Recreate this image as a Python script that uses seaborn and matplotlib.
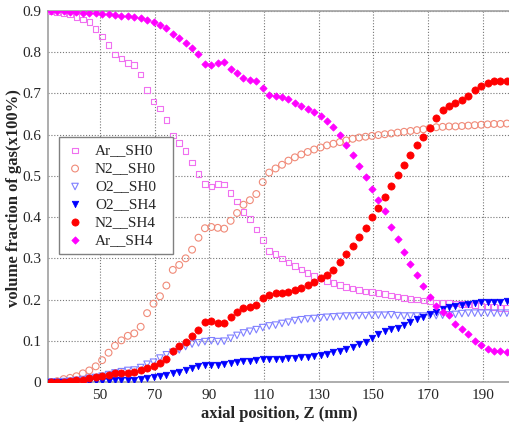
import numpy as np
import pandas as pd
import matplotlib
matplotlib.use("Agg")
import matplotlib.pyplot as plt
import seaborn as sns

# axial positions (mm)
z = [32.0, 34.35, 36.7, 39.05, 41.4, 43.75, 46.1, 48.45, 50.8, 53.15, 55.5, 57.85,
     60.2, 62.55, 64.9, 67.25, 69.6, 71.95, 74.3, 76.65, 79.0, 81.35, 83.7, 86.05,
     88.4, 90.75, 93.1, 95.45, 97.8, 100.15, 102.5, 104.85, 107.2, 109.55, 111.9, 114.25,
     116.6, 118.95, 121.3, 123.65, 126.0, 128.35, 130.7, 133.05, 135.4, 137.75, 140.1, 142.45,
     144.8, 147.15, 149.5, 151.85, 154.2, 156.55, 158.9, 161.25, 163.6, 165.95, 168.3, 170.65,
     173.0, 175.35, 177.7, 180.05, 182.4, 184.75, 187.1, 189.45, 191.8, 194.15, 196.5, 198.85]

ar_sh0 = [0.900, 0.897, 0.894, 0.892, 0.886, 0.879, 0.873, 0.857, 0.838, 0.817, 0.795, 0.785,
          0.774, 0.769, 0.746, 0.708, 0.680, 0.663, 0.636, 0.598, 0.580, 0.560, 0.533, 0.505,
          0.480, 0.474, 0.480, 0.479, 0.459, 0.438, 0.412, 0.396, 0.370, 0.345, 0.318, 0.310,
          0.300, 0.290, 0.281, 0.273, 0.265, 0.257, 0.251, 0.245, 0.240, 0.235, 0.231, 0.227,
          0.223, 0.220, 0.218, 0.216, 0.213, 0.210, 0.207, 0.204, 0.202, 0.200, 0.198, 0.196,
          0.193, 0.192, 0.191, 0.190, 0.189, 0.188, 0.187, 0.185, 0.183, 0.182, 0.180, 0.179]

n2_sh0 = [0.000, 0.002, 0.007, 0.010, 0.014, 0.021, 0.028, 0.038, 0.053, 0.071, 0.088, 0.101,
          0.112, 0.118, 0.134, 0.167, 0.190, 0.208, 0.234, 0.272, 0.284, 0.300, 0.321, 0.350,
          0.373, 0.376, 0.374, 0.372, 0.391, 0.410, 0.430, 0.441, 0.456, 0.485, 0.508, 0.518,
          0.527, 0.537, 0.545, 0.552, 0.558, 0.564, 0.569, 0.574, 0.578, 0.582, 0.586, 0.590,
          0.593, 0.595, 0.597, 0.599, 0.601, 0.603, 0.605, 0.607, 0.609, 0.611, 0.613, 0.616,
          0.618, 0.619, 0.620, 0.620, 0.621, 0.622, 0.623, 0.624, 0.625, 0.626, 0.626, 0.627]

o2_sh0 = [0.000, 0.000, 0.001, 0.002, 0.004, 0.006, 0.009, 0.011, 0.014, 0.018, 0.022, 0.025,
          0.028, 0.029, 0.035, 0.043, 0.048, 0.058, 0.066, 0.072, 0.078, 0.086, 0.092, 0.095,
          0.098, 0.100, 0.098, 0.099, 0.106, 0.113, 0.119, 0.123, 0.127, 0.132, 0.136, 0.138,
          0.142, 0.145, 0.149, 0.151, 0.153, 0.154, 0.156, 0.157, 0.158, 0.159, 0.160, 0.160,
          0.161, 0.161, 0.162, 0.162, 0.162, 0.163, 0.161, 0.160, 0.160, 0.160, 0.160, 0.161,
          0.161, 0.162, 0.163, 0.164, 0.166, 0.167, 0.167, 0.167, 0.167, 0.167, 0.167, 0.167]

o2_sh4 = [0.000, 0.000, 0.000, 0.000, 0.001, 0.001, 0.001, 0.002, 0.002, 0.003, 0.004, 0.004,
          0.005, 0.006, 0.008, 0.010, 0.012, 0.014, 0.017, 0.021, 0.025, 0.029, 0.033, 0.039,
          0.041, 0.041, 0.041, 0.043, 0.045, 0.048, 0.050, 0.052, 0.054, 0.055, 0.056, 0.057,
          0.057, 0.058, 0.059, 0.060, 0.061, 0.063, 0.065, 0.068, 0.072, 0.076, 0.080, 0.085,
          0.091, 0.098, 0.107, 0.116, 0.124, 0.128, 0.132, 0.139, 0.145, 0.152, 0.158, 0.164,
          0.170, 0.177, 0.182, 0.185, 0.187, 0.189, 0.191, 0.193, 0.194, 0.194, 0.195, 0.196]

n2_sh4 = [0.000, 0.000, 0.001, 0.002, 0.004, 0.006, 0.009, 0.011, 0.014, 0.018, 0.021, 0.023,
          0.023, 0.025, 0.029, 0.035, 0.040, 0.045, 0.055, 0.075, 0.088, 0.098, 0.111, 0.125,
          0.146, 0.149, 0.144, 0.142, 0.157, 0.169, 0.180, 0.183, 0.186, 0.203, 0.212, 0.215,
          0.215, 0.219, 0.224, 0.229, 0.236, 0.243, 0.252, 0.260, 0.272, 0.290, 0.310, 0.331,
          0.351, 0.373, 0.400, 0.422, 0.448, 0.475, 0.501, 0.527, 0.551, 0.575, 0.594, 0.616,
          0.640, 0.661, 0.670, 0.678, 0.685, 0.695, 0.708, 0.718, 0.725, 0.729, 0.730, 0.731]

ar_sh4 = [0.900, 0.900, 0.899, 0.898, 0.897, 0.896, 0.895, 0.894, 0.893, 0.892, 0.890, 0.889,
          0.888, 0.886, 0.884, 0.879, 0.873, 0.866, 0.858, 0.845, 0.834, 0.823, 0.810, 0.795,
          0.771, 0.768, 0.775, 0.776, 0.760, 0.749, 0.737, 0.733, 0.730, 0.712, 0.697, 0.693,
          0.692, 0.686, 0.678, 0.670, 0.663, 0.655, 0.645, 0.634, 0.619, 0.600, 0.574, 0.550,
          0.525, 0.497, 0.468, 0.441, 0.415, 0.377, 0.347, 0.316, 0.286, 0.259, 0.233, 0.206,
          0.184, 0.170, 0.162, 0.140, 0.129, 0.116, 0.100, 0.089, 0.079, 0.076, 0.075, 0.073]

series_names = ["Ar__SH0", "N2__SH0", "O2__SH0", "O2__SH4", "N2__SH4", "Ar__SH4"]
series_vals = [ar_sh0, n2_sh0, o2_sh0, o2_sh4, n2_sh4, ar_sh4]

x_ticks = [50, 70, 90, 110, 130, 150, 170, 190]
y_ticks = [0, 0.1, 0.2, 0.3, 0.4, 0.5, 0.6, 0.7, 0.8, 0.9]
y_tick_labels = ["0", "0.1", "0.2", "0.3", "0.4", "0.5", "0.6", "0.7", "0.8", "0.9"]

sns.set_style("white")
plt.rcParams['font.family'] = ['Liberation Serif', 'DejaVu Serif']

W, H = 509, 423
fig = plt.figure(figsize=(W / 100, H / 100), dpi=100)
ax_left, ax_right, ax_top, ax_bottom = 48, 510, 11, 382
ax = fig.add_axes([ax_left / W, (H - ax_bottom) / H, (ax_right - ax_left) / W, (ax_bottom - ax_top) / H])

styles = {
    "Ar__SH0": dict(marker="s", s=16, facecolor="none", edgecolor="#f070f0", linewidth=0.8),
    "N2__SH0": dict(marker="o", s=24, facecolor="none", edgecolor="#f08a78", linewidth=0.8),
    "O2__SH0": dict(marker="v", s=22, facecolor="none", edgecolor="#8080ff", linewidth=0.8),
    "O2__SH4": dict(marker="v", s=22, facecolor="#0000ff", edgecolor="#0000ff", linewidth=0.5),
    "N2__SH4": dict(marker="o", s=27, facecolor="#ff0000", edgecolor="#ff0000", linewidth=0.5),
    "Ar__SH4": dict(marker="D", s=14, facecolor="#ff00ff", edgecolor="#ff00ff", linewidth=0.5),
}

for name, vals in zip(series_names, series_vals):
    df = pd.DataFrame({"z": z, "v": vals})
    sns.scatterplot(data=df, x="z", y="v", ax=ax, label=name, zorder=3, **styles[name])

ax.set_xlim(31, 200)
ax.set_ylim(0, 0.9)
ax.set_xticks(x_ticks)
ax.set_xticklabels([str(t) for t in x_ticks])
ax.set_yticks(y_ticks)
ax.set_yticklabels(y_tick_labels)
ax.tick_params(axis="both", direction="in", length=3, labelsize=11, color="#888888", pad=5)
ax.grid(True, color="#777777", linestyle=(0, (1, 1.6)), linewidth=0.8)
for sp in ax.spines.values():
    sp.set_color("#a0a0a0")
    sp.set_linewidth(1.2)

ax.set_xlabel("axial position, Z (mm)", fontsize=12, fontweight="bold", labelpad=3)
ax.set_ylabel("volume fraction of gas(x100%)", fontsize=12, fontweight="bold")
ax.yaxis.set_label_coords(-0.056, 0.495)

lx0 = (59 - ax_left) / (ax_right - ax_left)
ly1 = (ax_bottom - 137) / (ax_bottom - ax_top)
lw = (173 - 59) / (ax_right - ax_left)
leg = ax.legend(loc="upper left", bbox_to_anchor=(lx0, ly1 - 0.01, lw, 0.01), mode="expand",
                borderaxespad=0, fontsize=11, frameon=True, fancybox=False,
                edgecolor="#808080", framealpha=1, labelspacing=0.28, borderpad=0.45,
                handlelength=1.2, handletextpad=0.7, markerscale=1.0)
leg.get_frame().set_linewidth(1.0)

fig.savefig("out.png", dpi=100)
